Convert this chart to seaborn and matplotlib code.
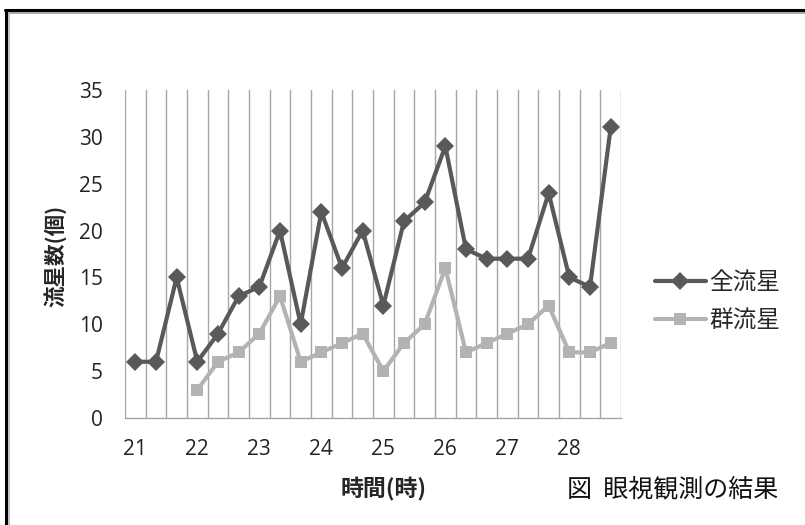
import numpy as np
import pandas as pd
import matplotlib
matplotlib.use("Agg")
import matplotlib.pyplot as plt
import seaborn as sns
from matplotlib.lines import Line2D

# ── データ (20分ごと, 21:00〜28:40) ──
hours = [21 + i / 3 for i in range(24)]
all_meteors = [6, 6, 15, 6, 9, 13, 14, 20, 10, 22, 16, 20,
               12, 21, 23, 29, 18, 17, 17, 17, 24, 15, 14, 31]
shower_hours = hours[3:]
shower_meteors = [3, 6, 7, 9, 13, 6, 7, 8, 9, 5, 8, 10,
                  16, 7, 8, 9, 10, 12, 7, 7, 8]
tick_hours = [21, 22, 23, 24, 25, 26, 27, 28]
series_labels = ["全流星", "群流星"]

df = pd.concat([
    pd.DataFrame({"hour": hours, "count": all_meteors, "kind": series_labels[0]}),
    pd.DataFrame({"hour": shower_hours, "count": shower_meteors, "kind": series_labels[1]}),
], ignore_index=True)

# ── スタイル ──
sns.set_theme(style="white")
plt.rcParams["font.family"] = ["Open Sans", "Noto Sans CJK JP", "DejaVu Sans"]

fig = plt.figure(figsize=(8.05, 5.25), dpi=100)
ax = fig.add_axes([125 / 805, 1 - 418 / 525, 496 / 805, 328 / 525])

palette = {"全流星": "#595959", "群流星": "#b3b3b3"}
sns.lineplot(data=df, x="hour", y="count", hue="kind", hue_order=series_labels,
             style="kind", style_order=series_labels, markers={"全流星": "D", "群流星": "s"},
             dashes=False, palette=palette, linewidth=3.0, markersize=9,
             markeredgewidth=0, ax=ax)

# カテゴリ境界の縦グリッド
for i in range(25):
    ax.axvline(21 - 1 / 6 + i / 3, color="#a6a6a6", linewidth=1.0, zorder=0)

ax.set_xlim(21 - 1 / 6, 21 - 1 / 6 + 24 / 3)
ax.set_ylim(0, 35)
ax.set_yticks(range(0, 36, 5))
ax.set_xticks(tick_hours)
ax.set_xticklabels([str(h) for h in tick_hours])
ax.tick_params(axis="both", length=0, labelsize=15, colors="#222222")
ax.tick_params(axis="y", pad=16)
ax.tick_params(axis="x", pad=15)
for s in ["top", "right", "left"]:
    ax.spines[s].set_visible(False)
ax.spines["bottom"].set_color("#a6a6a6")
ax.spines["bottom"].set_linewidth(1.0)

ax.set_xlabel("")
ax.set_ylabel("")
fig.text(55 / 805, 1 - 256 / 525, "流星数(個)", rotation=90, ha="center", va="center",
         fontsize=15.5, fontweight="bold", family=["Noto Sans CJK JP"])
fig.text(384 / 805, 1 - 489 / 525, "時間(時)", ha="center", va="center",
         fontsize=16.5, fontweight="bold", family=["Noto Sans CJK JP"])
fig.text(673 / 805, 1 - 489 / 525, "図  眼視観測の結果", ha="center", va="center",
         fontsize=18, family=["Noto Sans CJK JP"], color="#111111")

# 凡例
leg = ax.legend(loc="center left", bbox_to_anchor=(655 / 805, 1 - 302 / 525),
                bbox_transform=fig.transFigure, frameon=False,
                handlelength=2.15, handletextpad=0.15, labelspacing=0.65,
                borderaxespad=0, borderpad=0,
                prop={"family": ["Noto Sans CJK JP"], "size": 17})

# 外枠
fig.add_artist(Line2D([5 / 805, 1], [1 - 10 / 525, 1 - 10 / 525], color="black", linewidth=2.2))
fig.add_artist(Line2D([9 / 805, 1], [1 - 12.5 / 525, 1 - 12.5 / 525], color="#9a9a9a", linewidth=1.2))
fig.add_artist(Line2D([6 / 805, 6 / 805], [0, 1 - 10 / 525], color="black", linewidth=2.2))
fig.add_artist(Line2D([8.5 / 805, 8.5 / 805], [0, 1 - 12.5 / 525], color="#b8b8b8", linewidth=1.2))

fig.savefig("out.png", dpi=100)
plt.close(fig)
